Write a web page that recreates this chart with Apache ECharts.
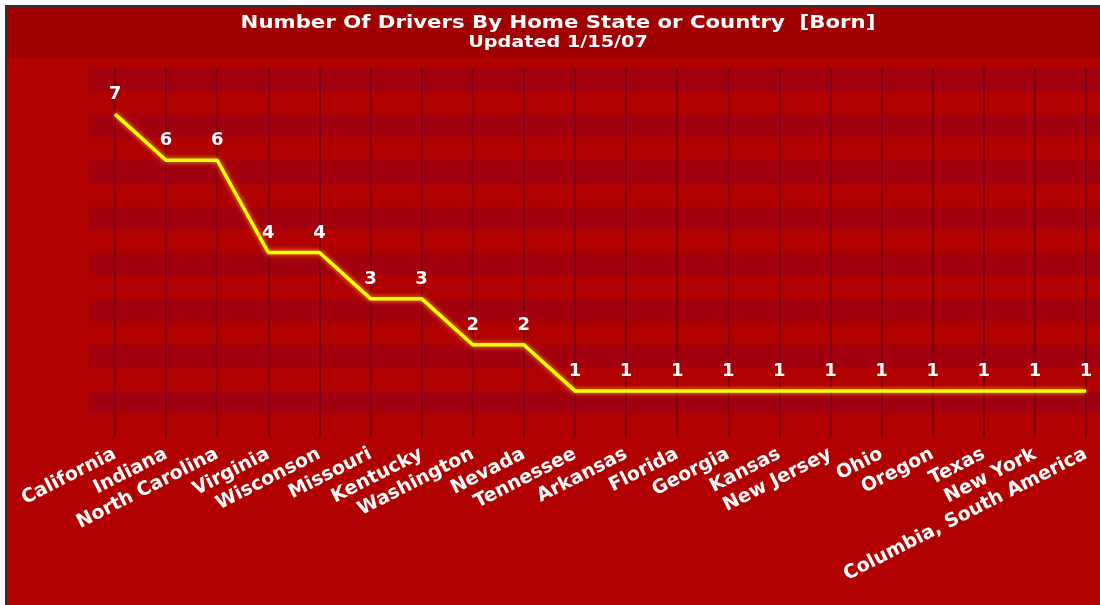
<!DOCTYPE html>
<html>
<head>
<meta charset="utf-8">
<script src="https://cdn.jsdelivr.net/npm/echarts@6/dist/echarts.min.js"></script>
<style>
    html, body {
        margin: 0;
        padding: 0;
        background: #ffffff;
    }

    .frame {
        position: absolute;
        left: 5px;
        top: 5px;
        width: 1095px;
        height: 600px;
        border-left: 2px solid #3a2a2a;
        border-top: 2px solid #3a2a2a;
    }

    .chart {
        width: 1093px;
        height: 598px;
    }
</style>
</head>
<body>
<div class="frame">
    <div id="main" class="chart"></div>
</div>
<script>
// 各州/国家出生的车手数量
const categories = ['California', 'Indiana', 'North Carolina', 'Virginia', 'Wisconson', 'Missouri',
    'Kentucky', 'Washington', 'Nevada', 'Tennessee', 'Arkansas', 'Florida', 'Georgia', 'Kansas',
    'New Jersey', 'Ohio', 'Oregon', 'Texas', 'New York', 'Columbia, South America'];
const drivers = [7, 6, 6, 4, 4, 3, 3, 2, 2, 1, 1, 1, 1, 1, 1, 1, 1, 1, 1, 1];
const titleText = 'Number Of Drivers By Home State or Country  [Born]';
const subText = 'Updated 1/15/07';

const font = '"DejaVu Sans", sans-serif';

const option = {
    animation: false,
    backgroundColor: '#b00000',
    graphic: [
        {
            type: 'rect',
            left: 0,
            top: 0,
            z: -10,
            shape: { width: 1093, height: 51 },
            style: { fill: '#a00000' }
        },
        // 标题（横向拉宽，模仿原图的宽字体）
        {
            type: 'text',
            x: 551,
            y: 16,
            scaleX: 1.18,
            style: {
                text: titleText,
                fill: '#ffffff',
                font: 'bold 18px ' + font,
                textAlign: 'center',
                textVerticalAlign: 'middle'
            }
        },
        {
            type: 'text',
            x: 551,
            y: 36,
            scaleX: 1.2,
            style: {
                text: subText,
                fill: '#ffffff',
                font: 'bold 16px ' + font,
                textAlign: 'center',
                textVerticalAlign: 'middle'
            }
        }
    ],
    grid: [
        // 条纹背景
        { left: 82, right: 0, top: 61, bottom: 168 },
        // 折线
        { left: 108, right: 14, top: 61, bottom: 168 }
    ],
    xAxis: [
        {
            gridIndex: 0,
            type: 'value',
            min: 0,
            max: 1,
            show: false
        },
        {
            gridIndex: 1,
            type: 'category',
            data: categories,
            boundaryGap: false,
            axisLine: { show: false },
            axisTick: { show: false },
            splitLine: {
                show: true,
                lineStyle: { color: '#7c000f', width: 2 }
            },
            axisLabel: {
                interval: 0,
                rotate: 27,
                margin: 16,
                color: '#ffffff',
                fontSize: 19,
                fontWeight: 'bold',
                fontFamily: font
            }
        }
    ],
    yAxis: [
        {
            gridIndex: 0,
            type: 'value',
            min: 0,
            max: 8,
            interval: 0.5,
            axisLine: { show: false },
            axisTick: { show: false },
            axisLabel: { show: false },
            splitLine: { show: false },
            splitArea: {
                show: true,
                areaStyle: { color: ['#b00000', '#a3000f'] }
            }
        },
        {
            gridIndex: 1,
            type: 'value',
            min: 0,
            max: 8,
            show: false
        }
    ],
    series: [
        {
            type: 'line',
            xAxisIndex: 1,
            yAxisIndex: 1,
            data: drivers,
            symbol: 'circle',
            symbolSize: 1,
            itemStyle: { color: '#ffff00' },
            lineStyle: {
                color: '#ffff00',
                width: 3.5,
                shadowColor: 'rgba(255, 190, 0, 0.9)',
                shadowBlur: 5
            },
            label: {
                show: true,
                position: 'top',
                distance: 10,
                color: '#ffffff',
                fontSize: 18,
                fontWeight: 'bold',
                fontFamily: font
            }
        }
    ]
};

echarts.init(document.getElementById('main')).setOption(option);
</script>
</body>
</html>
